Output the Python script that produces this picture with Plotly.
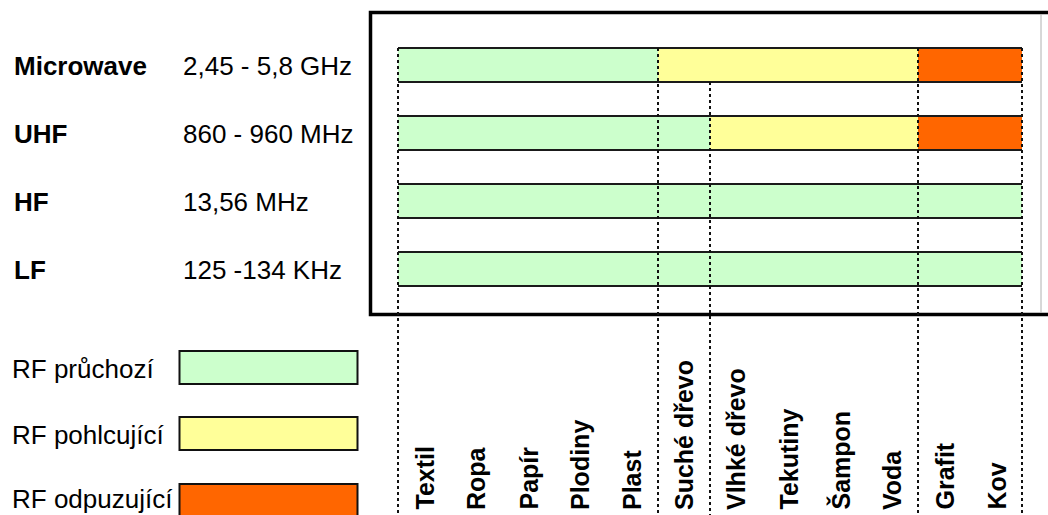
import plotly.graph_objects as go

W, H = 1048, 515

# ---------------- data ----------------
bands = ["Microwave", "UHF", "HF", "LF"]
frequencies = ["2,45 - 5,8 GHz", "860 - 960 MHz", "13,56 MHz", "125 -134 KHz"]
materials = ["Textil", "Ropa", "Papír", "Plodiny", "Plast", "Suché dřevo",
             "Vlhké dřevo", "Tekutiny", "Šampon", "Voda", "Grafit", "Kov"]
# 0 = RF průchozí, 1 = RF pohlcující, 2 = RF odpuzující
microwave_status = [0, 0, 0, 0, 0, 1, 1, 1, 1, 1, 2, 2]
uhf_status = [0, 0, 0, 0, 0, 0, 1, 1, 1, 1, 2, 2]
hf_status = [0, 0, 0, 0, 0, 0, 0, 0, 0, 0, 0, 0]
lf_status = [0, 0, 0, 0, 0, 0, 0, 0, 0, 0, 0, 0]
status_labels = ["RF průchozí", "RF pohlcující", "RF odpuzující"]
status_colors = ["#CCFFCC", "#FFFF99", "#FF6600"]

statuses = [microwave_status, uhf_status, hf_status, lf_status]

# ---------------- layout geometry (pixels) ----------------
X0_PX, CELL_PX = 398, 52          # left edge of bars, width of one material
Y0_PX, ROW_PX = 65, 68            # centre of first row, row spacing
BAR_H = 0.5                       # bar thickness in row units

def px_to_x(px):
    return (px - X0_PX) / CELL_PX

def px_to_y(py):
    return (py - Y0_PX) / ROW_PX

def pyp(py):  # pixel -> paper y
    return 1 - py / H

def pxp(px):  # pixel -> paper x
    return px / W

FONT = "Liberation Sans, Arial, sans-serif"
n = len(materials)

fig = go.Figure()

# bars: merge consecutive equal statuses into runs
for s, (lab, col) in enumerate(zip(status_labels, status_colors)):
    xs, bases, ys = [], [], []
    for r, st in enumerate(statuses):
        i = 0
        while i < n:
            j = i
            while j < n and st[j] == st[i]:
                j += 1
            if st[i] == s:
                xs.append(j - i)
                bases.append(i)
                ys.append(r)
            i = j
    fig.add_trace(go.Bar(x=xs, base=bases, y=ys, orientation="h", width=BAR_H,
                         marker=dict(color=col, line=dict(width=0)),
                         name=lab, showlegend=False, hoverinfo="skip"))

# top/bottom outlines of each bar row
hx, hy = [], []
for r in range(len(bands)):
    for edge in (r - BAR_H / 2, r + BAR_H / 2):
        hx += [0, n, None]
        hy += [edge, edge, None]
fig.add_trace(go.Scatter(x=hx, y=hy, mode="lines",
                         line=dict(color="#1a1a1a", width=2),
                         showlegend=False, hoverinfo="skip"))

# dashed dividers where a band changes behaviour
first_row = {0: 0, n: 0}
for r, st in enumerate(statuses):
    for i in range(1, n):
        if st[i] != st[i - 1] and i not in first_row:
            first_row[i] = r
vx, vy = [], []
for b in sorted(first_row):
    r = first_row[b]
    top = -BAR_H / 2 if r == 0 else (r - 1) + BAR_H / 2
    vx += [b, b, None]
    vy += [top, px_to_y(H + 5), None]
fig.add_trace(go.Scatter(x=vx, y=vy, mode="lines",
                         line=dict(color="#111111", width=2, dash="3px,3px"),
                         showlegend=False, hoverinfo="skip"))

annotations = []
# band names and frequencies
for r, (b, f) in enumerate(zip(bands, frequencies)):
    annotations.append(dict(x=pxp(12), xref="paper", y=r + 0.02, yref="y", text=f"<b>{b}</b>",
                            showarrow=False, xanchor="left", yanchor="middle",
                            font=dict(family=FONT, size=26, color="#000")))
    annotations.append(dict(x=pxp(181), xref="paper", y=r + 0.02, yref="y", text=f,
                            showarrow=False, xanchor="left", yanchor="middle",
                            font=dict(family=FONT, size=26, color="#000")))

# material labels (rotated)
for i, m in enumerate(materials):
    annotations.append(dict(x=i + 0.5, xref="x", y=px_to_y(512), yref="y",
                            text=f"<b>{m}</b>", textangle=-90, showarrow=False,
                            xanchor="center", yanchor="bottom",
                            font=dict(family=FONT, size=25, color="#000")))

shapes = []
# frame
shapes.append(dict(type="rect", xref="paper", yref="paper",
                   x0=pxp(370.5), x1=pxp(W + 20), y0=pyp(12.5), y1=pyp(314.5),
                   line=dict(color="#000", width=3.5), layer="below"))
shapes.append(dict(type="line", xref="paper", yref="paper",
                   x0=pxp(1041), x1=pxp(1041), y0=pyp(14), y1=pyp(313),
                   line=dict(color="#b0b0b0", width=1), layer="below"))

# legend
leg_centres = [367.5, 433.5, 500.5]
leg_text_centres = [368.5, 434.5, 499.0]
for lab, col, cy, ty in zip(status_labels, status_colors, leg_centres, leg_text_centres):
    shapes.append(dict(type="rect", xref="paper", yref="paper",
                       x0=pxp(179.5), x1=pxp(357.5), y0=pyp(cy - 16.5), y1=pyp(cy + 16.5),
                       fillcolor=col, line=dict(color="#111", width=2)))
    annotations.append(dict(x=pxp(10), xref="paper", y=pyp(ty), yref="paper",
                            text=lab, showarrow=False, xanchor="left", yanchor="middle",
                            font=dict(family=FONT, size=26, color="#000")))

fig.update_layout(
    width=W, height=H, autosize=False,
    margin=dict(l=0, r=0, t=0, b=0),
    paper_bgcolor="white", plot_bgcolor="white",
    barmode="overlay",
    xaxis=dict(range=[px_to_x(0), px_to_x(W)], visible=False, fixedrange=True),
    yaxis=dict(range=[px_to_y(H), px_to_y(0)], visible=False, fixedrange=True),
    annotations=annotations, shapes=shapes,
)

fig.write_html("out.html", config={"displayModeBar": False},
               post_script="document.body.style.margin='0';document.body.style.overflow='hidden';")
